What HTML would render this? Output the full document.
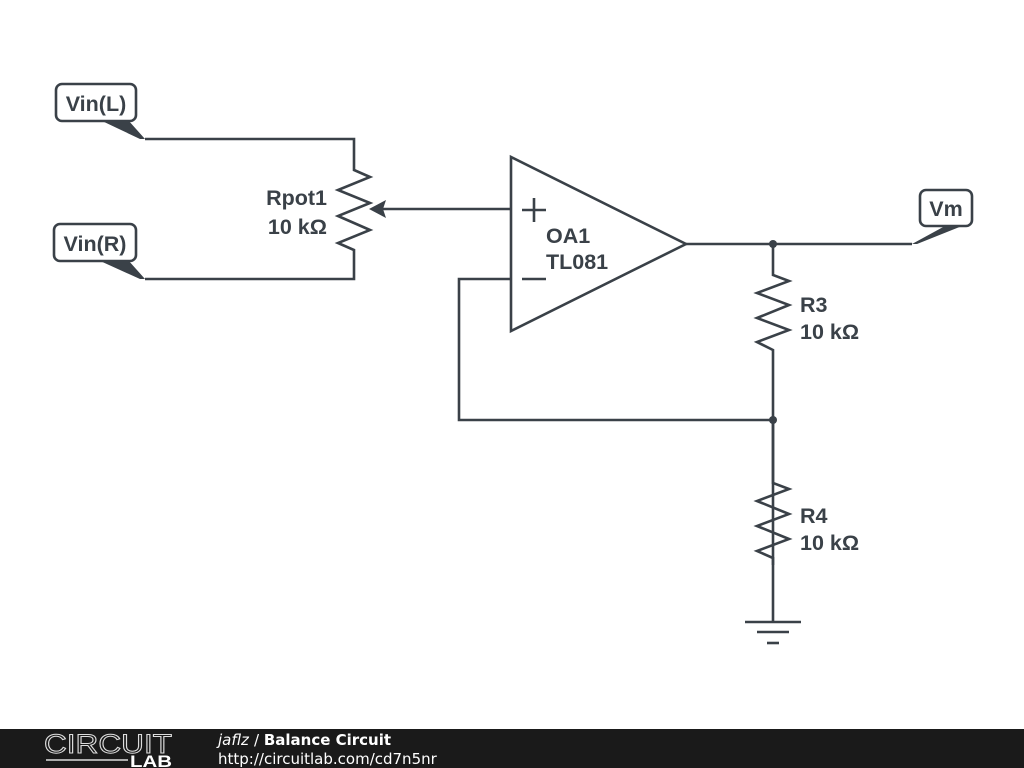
<!DOCTYPE html>
<html><head><style>
html,body{margin:0;padding:0;background:#fff;width:1024px;height:768px;overflow:hidden}
svg text{font-family:"Liberation Sans",Arial,sans-serif;font-weight:bold;fill:#3a4148}
</style></head><body>
<svg width="1024" height="768" viewBox="0 0 1024 768" xmlns="http://www.w3.org/2000/svg">
<g fill="none" stroke="#3a4148" stroke-width="2.6" stroke-linejoin="miter">
<rect x="56" y="84" width="80" height="37" rx="6" fill="#fff"/>
<rect x="54" y="224" width="82" height="37" rx="6" fill="#fff"/>
<rect x="920" y="190" width="52" height="36" rx="6" fill="#fff"/>
<polyline points="145,139 354,139 354,170 370,177 338,190 370,203 338,216 370,230 338,243 354,250 354,279 145,279"/>
<line x1="380" y1="209" x2="511" y2="209"/>
<polygon points="511,157 511,331 686,244"/>
<line x1="522" y1="210" x2="546" y2="210"/>
<line x1="534" y1="198" x2="534" y2="222"/>
<line x1="522" y1="279" x2="546" y2="279"/>
<line x1="686" y1="244" x2="912" y2="244"/>
<polyline points="773,244 773,275 789,281 757,293 789,305 757,318 789,330 757,342 773,350 773,565"/>
<polyline points="511,279 459,279 459,420 773,420"/>
<polyline points="773,420 773,483 789,489 757,501 789,514 757,526 789,539 757,551 773,558 773,622"/>
<line x1="745" y1="622" x2="801" y2="622"/>
<line x1="757" y1="632" x2="789" y2="632"/>
<line x1="767" y1="643" x2="779" y2="643"/>
</g>
<g fill="#3a4148">
<polygon points="100,120 128,120 145,139 140,139"/>
<polygon points="98,260 128,260 145,279 140,279"/>
<polygon points="945,226 962,226 917,244 912,244"/>
<polygon points="369,209 386,200 383,209 386,218"/>
<circle cx="773" cy="244" r="4"/>
<circle cx="773" cy="420" r="4"/>
</g>
<text x="96" y="111" font-size="21.5" text-anchor="middle">Vin(L)</text>
<text x="95" y="251" font-size="21.5" text-anchor="middle">Vin(R)</text>
<text x="946" y="216" font-size="21.5" text-anchor="middle">Vm</text>
<text x="327" y="205" font-size="21.5" text-anchor="end">Rpot1</text>
<text x="327" y="234" font-size="21.5" text-anchor="end">10 kΩ</text>
<text x="546" y="243" font-size="21.5">OA1</text>
<text x="546" y="269" font-size="21.5">TL081</text>
<text x="800" y="312" font-size="21.5">R3</text>
<text x="800" y="339" font-size="21.5">10 kΩ</text>
<text x="800" y="523" font-size="21.5">R4</text>
<text x="800" y="550" font-size="21.5">10 kΩ</text>
<rect x="0" y="729" width="1024" height="39" fill="#1a1a1a"/>
<text x="44" y="753" font-size="27" textLength="128" lengthAdjust="spacingAndGlyphs" style="font-weight:normal;fill:none;stroke:#ddd;stroke-width:1">CIRCUIT</text>
<line x1="46" y1="760" x2="128" y2="760" stroke="#ddd" stroke-width="1.5"/>
<text x="130" y="767" font-size="17" textLength="42" lengthAdjust="spacingAndGlyphs" style="fill:#fff">LAB</text>
<text x="218" y="745" font-size="15" style="fill:#fff;font-weight:normal;font-style:italic;font-family:'DejaVu Sans',sans-serif">jaflz</text>
<text x="254" y="745" font-size="15" style="fill:#fff;font-family:'DejaVu Sans',sans-serif"><tspan style="font-weight:normal">/ </tspan>Balance Circuit</text>
<text x="218" y="764" font-size="15" style="fill:#fff;font-weight:normal;font-family:'DejaVu Sans',sans-serif">http://circuitlab.com/cd7n5nr</text>
</svg>
</body></html>
